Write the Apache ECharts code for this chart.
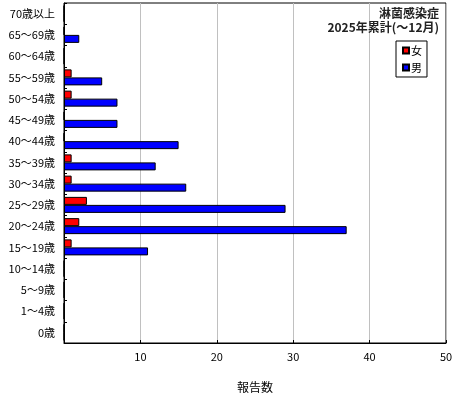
<!DOCTYPE html>
<html><head><meta charset="utf-8">
<script src="https://cdn.jsdelivr.net/npm/echarts@6/dist/echarts.min.js"></script>
<style>html,body{margin:0;padding:0;background:#fff}#c{width:460px;height:400px}</style>
</head><body><div id="c"></div>
<script>
const categories = ['0歳','1〜4歳','5〜9歳','10〜14歳','15〜19歳','20〜24歳','25〜29歳','30〜34歳','35〜39歳','40〜44歳','45〜49歳','50〜54歳','55〜59歳','60〜64歳','65〜69歳','70歳以上'];
const female = [0,0,0,0,1,2,3,1,1,0,0,1,1,0,0,0];
const male   = [0,0,0,0,11,37,29,16,12,15,7,7,5,0,2,0];
const titleLines = ['淋菌感染症','2025年累計(〜12月)'];
const FONT = '"Noto Sans CJK JP", sans-serif';
const chart = echarts.init(document.getElementById('c'), null, {renderer:'canvas'});
const titleStyle = {fontFamily:FONT,fontSize:12,fontWeight:'bold',color:'#222'};
chart.setOption({
  animation:false,
  backgroundColor:'#fff',
  textStyle:{fontFamily:FONT},
  title: titleLines.map((t,i)=>({text:t, right:16, top:2+i*14, textStyle:titleStyle})),
  legend:{
    orient:'vertical', left:396, top:41, width:28,
    data:['女','男'], icon:'rect', itemWidth:6, itemHeight:6, itemGap:6,
    borderColor:'#000', borderWidth:1, backgroundColor:'#fff', padding:[4,5,4,6],
    textStyle:{fontFamily:FONT,fontSize:11,color:'#000',padding:[0,0,0,-3]}
  },
  grid:{left:64, right:14, top:3, bottom:57, show:true, borderColor:'#000', borderWidth:1},
  xAxis:{
    type:'value', min:0, max:50, interval:10,
    name:'報告数', nameLocation:'middle', nameGap:38,
    nameTextStyle:{fontFamily:FONT,fontSize:12,color:'#000'},
    axisLine:{show:true,lineStyle:{color:'#000'}},
    axisTick:{show:true,inside:true,length:3,lineStyle:{color:'#000'}},
    axisLabel:{color:'#000',fontSize:11,margin:8,fontFamily:FONT,showMinLabel:false,
      formatter:v=>v===0?'':String(v)},
    splitLine:{show:true,lineStyle:{color:'#c0c0c0',width:1}}
  },
  yAxis:{
    type:'category', data:categories,
    axisLine:{show:true,lineStyle:{color:'#000'}},
    axisTick:{show:true,inside:true,length:3,lineStyle:{color:'#000'}},
    axisLabel:{color:'#000',fontSize:11,margin:9,fontFamily:FONT},
    splitLine:{show:false}
  },
  series:[
    {name:'女', type:'bar', data:female, barWidth:8, barGap:'0%',
      itemStyle:{color:'#ff0000',borderColor:'#000',borderWidth:1}},
    {name:'男', type:'bar', data:male, barWidth:8, barGap:'0%',
      itemStyle:{color:'#0000ff',borderColor:'#000',borderWidth:1}}
  ]
});
</script></body></html>
